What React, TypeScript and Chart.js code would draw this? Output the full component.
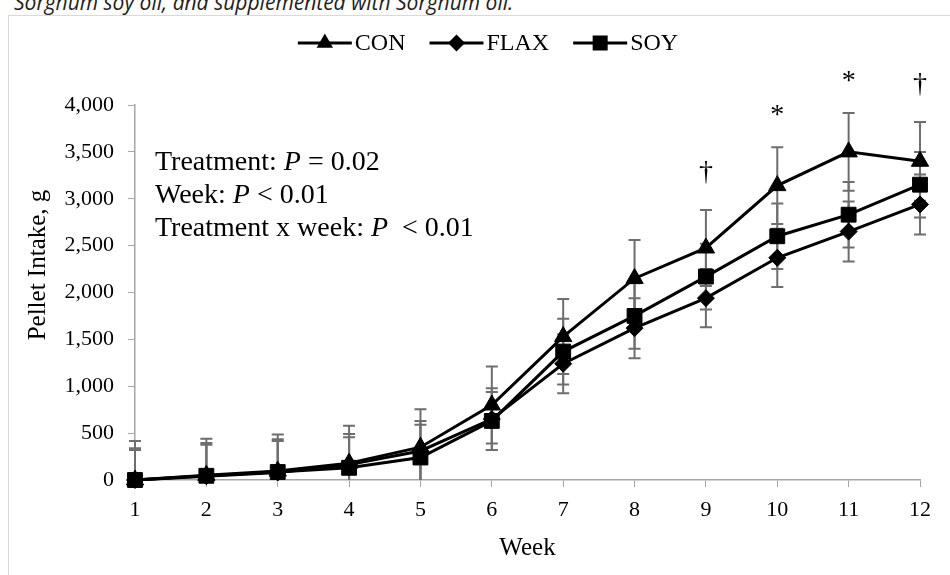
import React, { useEffect, useRef } from "react";
import { Chart, registerables } from "chart.js";

Chart.register(...registerables);

const weeks = ["1", "2", "3", "4", "5", "6", "7", "8", "9", "10", "11", "12"];
const conMeans = [0, 50, 95, 180, 350, 800, 1530, 2150, 2475, 3140, 3500, 3400];
const flaxMeans = [0, 40, 80, 165, 310, 650, 1240, 1620, 1940, 2370, 2650, 2940];
const soyMeans = [0, 45, 85, 130, 240, 630, 1370, 1750, 2170, 2600, 2830, 3150];
const conSE = [415, 390, 390, 400, 405, 410, 400, 410, 405, 410, 415, 420];
const flaxSE = [340, 355, 355, 325, 320, 330, 315, 320, 310, 310, 320, 320];
const soySE = [320, 330, 330, 325, 350, 310, 350, 350, 350, 350, 350, 350];
const significance = ["", "", "", "", "", "", "", "", "\u2020", "*", "*", "\u2020"];
const seriesNames = ["CON", "FLAX", "SOY"];
const seriesShapes = ["triangle", "diamond", "square"];
const statLines = [
  ["Treatment: ", "P", " = 0.02"],
  ["Week: ", "P", " < 0.01"],
  ["Treatment x week: ", "P", "  < 0.01"],
];
const yMin = 0;
const yMax = 4000;
const yStep = 500;

const SERIF = "'Liberation Serif', 'Times New Roman', serif";

function drawMarker(ctx: CanvasRenderingContext2D, shape: string, x: number, y: number) {
  ctx.save();
  ctx.fillStyle = "#000";
  ctx.beginPath();
  if (shape === "triangle") {
    const r = 9.5;
    ctx.moveTo(x, y - r);
    ctx.lineTo(x + r * 0.866, y + r * 0.5);
    ctx.lineTo(x - r * 0.866, y + r * 0.5);
  } else if (shape === "diamond") {
    const r = 8.5;
    ctx.moveTo(x, y - r);
    ctx.lineTo(x + r, y);
    ctx.lineTo(x, y + r);
    ctx.lineTo(x - r, y);
  } else {
    const h = 7.5;
    ctx.rect(x - h, y - h, 2 * h, 2 * h);
  }
  ctx.closePath();
  ctx.fill();
  ctx.restore();
}

const errorBarPlugin = {
  id: "errorBars",
  beforeDatasetsDraw(chart: any) {
    const ctx = chart.ctx as CanvasRenderingContext2D;
    const xs = chart.scales.x;
    const ys = chart.scales.y;
    const area = chart.chartArea;
    const sets = [
      [conMeans, conSE],
      [flaxMeans, flaxSE],
      [soyMeans, soySE],
    ];
    ctx.save();
    ctx.beginPath();
    ctx.rect(area.left - 10, area.top - 2, area.right - area.left + 20, area.bottom - area.top + 2);
    ctx.clip();
    ctx.strokeStyle = "#6e6e6e";
    ctx.lineWidth = 2;
    sets.forEach(([means, se]) => {
      means.forEach((m, i) => {
        const x = xs.getPixelForValue(i);
        const yt = ys.getPixelForValue(m + se[i]);
        const yb = ys.getPixelForValue(m - se[i]);
        ctx.beginPath();
        ctx.moveTo(x, yt);
        ctx.lineTo(x, yb);
        ctx.moveTo(x - 6, yt);
        ctx.lineTo(x + 6, yt);
        ctx.moveTo(x - 6, yb);
        ctx.lineTo(x + 6, yb);
        ctx.stroke();
      });
    });
    ctx.restore();
  },
};

const decorPlugin = {
  id: "decor",
  afterDraw(chart: any) {
    const ctx = chart.ctx as CanvasRenderingContext2D;
    const xs = chart.scales.x;
    const ys = chart.scales.y;
    const area = chart.chartArea;
    ctx.save();

    // significance marks above CON upper error bars
    ctx.fillStyle = "#000";
    ctx.font = `28px ${SERIF}`;
    ctx.textAlign = "center";
    ctx.textBaseline = "alphabetic";
    significance.forEach((s, i) => {
      if (!s) return;
      const x = xs.getPixelForValue(i);
      const y = ys.getPixelForValue(conMeans[i] + conSE[i]);
      ctx.fillText(s, x, y - (s === "*" ? 24 : 30));
    });

    // statistics text
    ctx.textAlign = "left";
    statLines.forEach((parts, li) => {
      let x = area.left + 20;
      const y = area.top + 65 + li * 33;
      parts.forEach((p, pi) => {
        ctx.font = pi === 1 ? `italic 28px ${SERIF}` : `28px ${SERIF}`;
        ctx.fillText(p, x, y);
        x += ctx.measureText(p).width;
      });
    });

    // axis titles
    ctx.font = `25px ${SERIF}`;
    ctx.textAlign = "center";
    ctx.textBaseline = "middle";
    ctx.fillText("Week", (area.left + area.right) / 2, area.bottom + 68);
    ctx.save();
    ctx.translate(area.left - 97, area.top + 160);
    ctx.rotate(-Math.PI / 2);
    ctx.fillText("Pellet Intake, g", 0, 0);
    ctx.restore();

    // legend
    ctx.font = `24px ${SERIF}`;
    ctx.textAlign = "left";
    ctx.textBaseline = "middle";
    const lineLen = 54;
    const gap = 3;
    const itemGap = 24;
    const widths = seriesNames.map((n) => lineLen + gap + ctx.measureText(n).width);
    const total = widths.reduce((a, b) => a + b, 0) + itemGap * (seriesNames.length - 1);
    let lx = 488 - total / 2;
    const ly = 43;
    seriesNames.forEach((n, i) => {
      ctx.strokeStyle = "#000";
      ctx.lineWidth = 3;
      ctx.beginPath();
      ctx.moveTo(lx, ly);
      ctx.lineTo(lx + lineLen, ly);
      ctx.stroke();
      drawMarker(ctx, seriesShapes[i], lx + lineLen / 2, ly);
      ctx.fillStyle = "#000";
      ctx.fillText(n, lx + lineLen + gap, ly + 1);
      lx += widths[i] + itemGap;
    });
    ctx.restore();
  },
};

export default function App() {
  const canvasRef = useRef<HTMLCanvasElement | null>(null);

  useEffect(() => {
    if (!canvasRef.current) return;
    const common = {
      borderColor: "#000",
      backgroundColor: "#000",
      pointBackgroundColor: "#000",
      pointBorderColor: "#000",
      borderWidth: 3,
      pointBorderWidth: 1,
      tension: 0,
      fill: false,
      clip: false as const,
    };
    const chart = new Chart(canvasRef.current, {
      type: "line",
      data: {
        labels: weeks,
        datasets: [
          { ...common, label: seriesNames[0], data: conMeans, pointStyle: "triangle", pointRadius: 10, order: 3 },
          { ...common, label: seriesNames[1], data: flaxMeans, pointStyle: "rectRot", pointRadius: 8.5, order: 2 },
          { ...common, label: seriesNames[2], data: soyMeans, pointStyle: "rect", pointRadius: 10.5, order: 1 },
        ],
      },
      options: {
        animation: false,
        responsive: false,
        maintainAspectRatio: false,
        devicePixelRatio: 1,
        layout: { padding: { top: 105, right: 30, left: 0, bottom: 0 } },
        plugins: {
          legend: { display: false },
          title: { display: false },
          tooltip: { enabled: false },
        },
        scales: {
          x: {
            type: "category",
            offset: false,
            grid: {
              display: true,
              drawOnChartArea: false,
              drawTicks: true,
              tickLength: 7,
              color: "#a6a6a6",
              offset: false,
            },
            border: { display: true, color: "#a6a6a6", width: 1.5 },
            ticks: {
              color: "#000",
              font: { family: SERIF, size: 22 },
              padding: 10,
              maxRotation: 0,
              autoSkip: false,
            },
            afterFit(scale: any) {
              scale.height = 95;
            },
          },
          y: {
            min: yMin,
            max: yMax,
            grid: {
              display: true,
              drawOnChartArea: false,
              drawTicks: true,
              tickLength: 7,
              color: "#a6a6a6",
            },
            border: { display: true, color: "#a6a6a6", width: 1.5 },
            ticks: {
              stepSize: yStep,
              color: "#000",
              font: { family: SERIF, size: 22 },
              padding: 14,
              callback: (v: any) => Number(v).toLocaleString("en-US"),
            },
            afterFit(scale: any) {
              scale.width = 135;
            },
          },
        },
      },
      plugins: [errorBarPlugin, decorPlugin],
    });
    return () => chart.destroy();
  }, []);

  return (
    <div
      style={{
        position: "fixed",
        left: 0,
        top: 0,
        width: 950,
        height: 575,
        overflow: "hidden",
        background: "#fff",
      }}
    >
      <div
        style={{
          position: "absolute",
          left: 14,
          top: -12,
          whiteSpace: "nowrap",
          font: "italic 21px 'Open Sans', sans-serif",
          color: "#222",
        }}
      >
        Sorghum soy oil, and supplemented with Sorghum oil.
      </div>
      <div
        style={{
          position: "absolute",
          left: 8,
          top: 15,
          width: 1000,
          height: 1000,
          border: "1px solid #d9d9d9",
        }}
      />
      <canvas
        ref={canvasRef}
        width={950}
        height={575}
        style={{ position: "absolute", left: 0, top: 0, width: 950, height: 575 }}
      />
    </div>
  );
}
